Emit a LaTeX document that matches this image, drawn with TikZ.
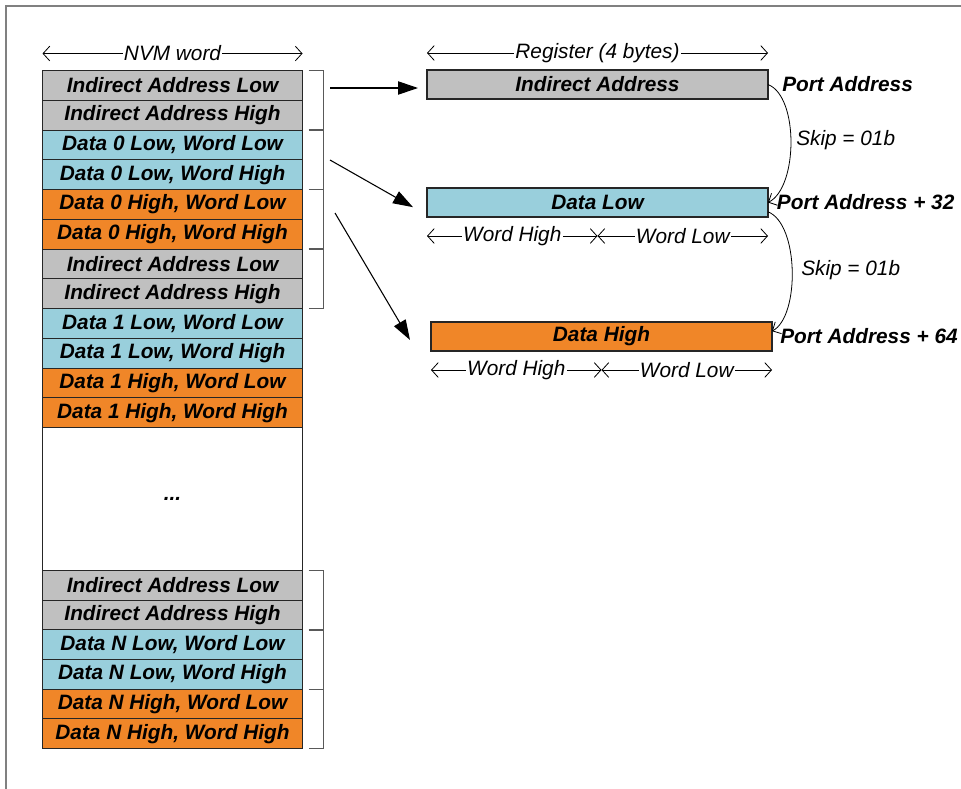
\documentclass[tikz,border=0pt]{standalone}
\usepackage{fontspec}
\setmainfont{Liberation Sans}
\usepackage{tikz}
\usetikzlibrary{matrix,positioning,calc,arrows.meta}
\definecolor{cellgray}{RGB}{192,192,192}
\definecolor{cellblue}{RGB}{153,207,220}
\definecolor{cellorange}{RGB}{240,134,40}
\tikzset{
	cell/.style={draw=black!85, line width=0.8pt, inner sep=0pt, outer sep=0pt, minimum width=195pt, minimum height=22.3125pt, font=\fontsize{15.6}{18}\selectfont\bfseries\itshape}, % one NVM word
	iacell/.style={cell, fill=cellgray},
	locell/.style={cell, fill=cellblue},
	hicell/.style={cell, fill=cellorange},
	reg/.style={cell, minimum width=255.75pt, minimum height=21.75pt}, % one register (4 bytes)
	port/.style={inner sep=0pt, font=\fontsize{15.6}{18}\selectfont\bfseries\itshape},
	dimlbl/.style={fill=white, inner sep=1pt, font=\fontsize{15.6}{18}\selectfont\itshape},
	skiplbl/.style={anchor=west, inner sep=0pt, font=\fontsize{15.6}{18}\selectfont\itshape},
	dim/.style={{Straight Barb[length=5pt,width=11pt]}-{Straight Barb[length=5pt,width=11pt]}, line width=0.6pt},
	bracket/.style={draw=black!65, line width=1pt},
	feed/.style={-{Triangle[length=15pt,width=10pt]}, line width=0.8pt}, % word pair goes to register
	skip/.style={-{Straight Barb[length=5pt,width=10pt]}, line width=0.6pt},
	frame/.style={draw=black!50, line width=1.3pt}
}
\begin{document}
\begin{tikzpicture}[x=0.75pt,y=-0.75pt]
\useasboundingbox (0,0) rectangle (961,789);
\draw[frame] (6,789) |- (961,6);
% NVM words
\matrix (nvm) [anchor=north west, inner sep=0pt, outer sep=0pt, row sep=-0.8pt, column sep=0pt] at (42,70) {
\node[iacell] (r1) {Indirect Address Low}; \\
\node[iacell] (r2) {Indirect Address High}; \\
\node[locell] (r3) {Data 0 Low, Word Low}; \\
\node[locell] (r4) {Data 0 Low, Word High}; \\
\node[hicell] (r5) {Data 0 High, Word Low}; \\
\node[hicell] (r6) {Data 0 High, Word High}; \\
\node[iacell] (r7) {Indirect Address Low}; \\
\node[iacell] (r8) {Indirect Address High}; \\
\node[locell] (r9) {Data 1 Low, Word Low}; \\
\node[locell] (r10) {Data 1 Low, Word High}; \\
\node[hicell] (r11) {Data 1 High, Word Low}; \\
\node[hicell] (r12) {Data 1 High, Word High}; \\
\node[cell, minimum height=107.25pt] (gap) {...}; \\
\node[iacell, minimum height=22.25pt] (n1) {Indirect Address Low}; \\
\node[iacell, minimum height=22.25pt] (n2) {Indirect Address High}; \\
\node[locell, minimum height=22.25pt] (n3) {Data N Low, Word Low}; \\
\node[locell, minimum height=22.25pt] (n4) {Data N Low, Word High}; \\
\node[hicell, minimum height=22.25pt] (n5) {Data N High, Word Low}; \\
\node[hicell, minimum height=22.25pt] (n6) {Data N High, Word High}; \\
};
\draw[dim] ([yshift=12.75pt]r1.north west) -- node[dimlbl] (nvmlbl) {NVM word} ([yshift=12.75pt]r1.north east);
% brackets round each pair
\foreach \a/\b in {r1/r2,r3/r4,r5/r6,r7/r8,n1/n2,n3/n4,n5/n6}
	\draw[bracket] ([xshift=4.5pt]\a.north east) -- ++(15,0) |- ([xshift=4.5pt]\b.south east);
% registers
\node[reg, fill=cellgray] (ia) at (597.5,84.5) {Indirect Address};
\node[reg, fill=cellblue] (dl) at (597.5,202.5) {Data Low};
\node[reg, fill=cellorange] (dh) at (601.5,336.5) {Data High};
\node[port, anchor=west, right=10.5pt of ia] (pa) {Port Address};
\node[port, anchor=west, right=6.5pt of dl] (pa32) {Port Address + 32};
\node[port, anchor=west, right=6pt of dh] (pa64) {Port Address + 64};
\draw[dim] ([yshift=12.75pt]ia.north west) -- node[dimlbl] (reglbl) {Register (4 bytes)} ([yshift=12.75pt]ia.north east);
\draw[dim] ([yshift=-14.25pt]dl.south west) -- node[dimlbl] (dlwh) {Word High} ([yshift=-14.25pt]dl.south);
\draw[dim] ([yshift=-14.25pt]dl.south) -- node[dimlbl] (dlwl) {Word Low} ([yshift=-14.25pt]dl.south east);
\draw[dim] ([yshift=-14.25pt]dh.south west) -- node[dimlbl] (dhwh) {Word High} ([yshift=-14.25pt]dh.south);
\draw[dim] ([yshift=-14.25pt]dh.south) -- node[dimlbl] (dhwl) {Word Low} ([yshift=-14.25pt]dh.south east);
% feeds
\coordinate (f1) at (330,88);
\coordinate (f2) at (330,160);
\coordinate (f3) at (335,213);
\draw[feed, shorten >=6.75pt] (f1) -- (f1 -| ia.west);
\draw[feed] (f2) -- ([xshift=-10.5pt,yshift=-3.5pt]dl.west);
\draw[feed] (f3) -- ([xshift=-15.75pt,yshift=-2.6pt]dh.west);
% skips
\draw[skip] (ia.east) .. controls +(31,12) and +(30,-15) .. (dl.east);
\draw[skip] ([yshift=-7pt]dl.east) .. controls +(31,12) and +(28,-15) .. ([yshift=4pt]dh.east);
\node[skiplbl] (s1) at (796,140) {Skip = 01b};
\node[skiplbl] (s2) at (801,270) {Skip = 01b};
\end{tikzpicture}
\end{document}
